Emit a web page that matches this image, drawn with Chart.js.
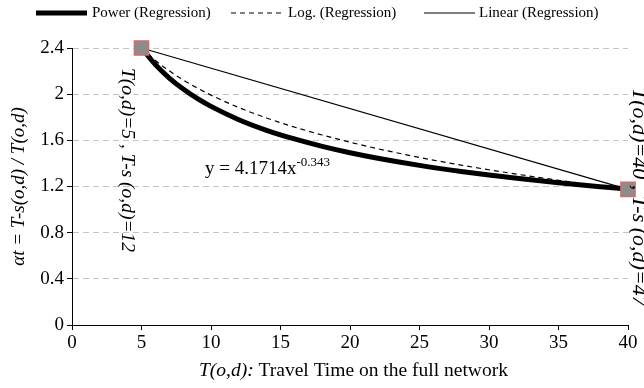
<!DOCTYPE html>
<html>
<head>
<meta charset="utf-8">
<script src="https://cdn.jsdelivr.net/npm/chart.js@4.4.0/dist/chart.umd.min.js"></script>
<style>
  body { margin: 0; background: #fff; }
  #wrap { width: 644px; height: 388px; }
</style>
</head>
<body>
<div id="wrap"><canvas id="chart"></canvas></div>
<script>
// values
var xValues = [5, 6, 7, 8, 9, 10, 12, 14, 16, 18, 20, 22, 25, 28, 30, 32, 35, 38, 40];
var powerValues = [2.402, 2.256, 2.140, 2.044, 1.963, 1.894, 1.779, 1.687, 1.612, 1.548, 1.493, 1.445, 1.383, 1.330, 1.299, 1.271, 1.232, 1.198, 1.177];
var logValues = [2.400, 2.292, 2.202, 2.123, 2.054, 1.992, 1.884, 1.794, 1.715, 1.646, 1.584, 1.527, 1.452, 1.385, 1.345, 1.307, 1.254, 1.206, 1.175];
var linearX = [5, 40];
var linearValues = [2.40, 1.175];
var pointX = [5, 40];
var pointValues = [2.40, 1.175];
var seriesNames = ['Power (Regression)', 'Log. (Regression)', 'Linear (Regression)'];
var xTicks = [0, 5, 10, 15, 20, 25, 30, 35, 40];
var yTicks = [0, 0.4, 0.8, 1.2, 1.6, 2, 2.4];

var serif = '"Liberation Serif", "Times New Roman", serif';

function pairs(xs, ys) {
  return xs.map(function(x, i) { return { x: x, y: ys[i] }; });
}

var textPlugin = {
  id: 'texts',
  afterDraw: function(chart) {
    var ctx = chart.ctx;
    var xs = chart.scales.x;
    var ys = chart.scales.y;
    ctx.save();
    ctx.fillStyle = '#000';
    ctx.strokeStyle = '#000';

    // legend
    var ly = 13;
    ctx.font = '15px ' + serif;
    ctx.textBaseline = 'middle';
    ctx.textAlign = 'left';
    ctx.lineWidth = 5;
    ctx.beginPath(); ctx.moveTo(36, ly); ctx.lineTo(87, ly); ctx.stroke();
    ctx.fillText(seriesNames[0], 92, ly);
    ctx.lineWidth = 1.2;
    ctx.setLineDash([5, 4]);
    ctx.beginPath(); ctx.moveTo(231, ly); ctx.lineTo(283, ly); ctx.stroke();
    ctx.setLineDash([]);
    ctx.fillText(seriesNames[1], 288, ly);
    ctx.beginPath(); ctx.moveTo(424, ly); ctx.lineTo(475, ly); ctx.stroke();
    ctx.fillText(seriesNames[2], 479, ly);

    // x title
    ctx.textBaseline = 'alphabetic';
    var t1 = 'T(o,d):';
    var t2 = ' Travel Time on the full network';
    ctx.font = 'italic 19.5px ' + serif;
    var w1 = ctx.measureText(t1).width;
    ctx.fillText(t1, 199, 376);
    ctx.font = '19.5px ' + serif;
    ctx.fillText(t2, 199 + w1, 376);

    // y title
    ctx.save();
    ctx.translate(24, (ys.top + ys.bottom) / 2);
    ctx.rotate(-Math.PI / 2);
    ctx.textAlign = 'center';
    ctx.font = 'italic 19px ' + serif;
    ctx.fillText('\u03b1t = T-s(o,d) / T(o,d)', 0, 0);
    ctx.restore();

    // point annotations
    ctx.save();
    ctx.translate(xs.getPixelForValue(5) - 20, 68);
    ctx.rotate(Math.PI / 2);
    ctx.textAlign = 'left';
    ctx.font = 'italic 19.5px ' + serif;
    ctx.fillText('T(o,d)=5 , T-s (o,d)=12', 0, 0);
    ctx.restore();

    ctx.save();
    ctx.translate(xs.getPixelForValue(40) + 5, 88);
    ctx.rotate(Math.PI / 2);
    ctx.textAlign = 'left';
    ctx.font = 'italic 22px ' + serif;
    ctx.fillText('T(o,d)=40 , T-s (o,d)=47', 0, 0);
    ctx.restore();

    // regression equation
    ctx.textAlign = 'left';
    ctx.font = '19px ' + serif;
    var eq = 'y = 4.1714x';
    ctx.fillText(eq, 205, 174);
    var ew = ctx.measureText(eq).width;
    ctx.font = '13px ' + serif;
    ctx.fillText('-0.343', 205 + ew, 166);

    ctx.restore();
  }
};

new Chart(document.getElementById('chart'), {
  type: 'line',
  data: {
    datasets: [
      {
        label: 'points',
        data: pairs(pointX, pointValues),
        showLine: false,
        clip: false,
        pointStyle: 'rect',
        pointRadius: 10,
        pointBackgroundColor: '#8c8c8c',
        pointBorderColor: '#d46a6a',
        pointBorderWidth: 1.5,
        order: 0
      },
      {
        label: seriesNames[0],
        data: pairs(xValues, powerValues),
        borderColor: '#000',
        borderWidth: 5,
        pointRadius: 0,
        clip: false,
        cubicInterpolationMode: 'monotone',
        order: 1
      },
      {
        label: seriesNames[1],
        data: pairs(xValues, logValues),
        borderColor: '#000',
        borderWidth: 1.2,
        borderDash: [5, 4],
        pointRadius: 0,
        clip: false,
        cubicInterpolationMode: 'monotone',
        order: 2
      },
      {
        label: seriesNames[2],
        data: pairs(linearX, linearValues),
        borderColor: '#000',
        borderWidth: 1.2,
        pointRadius: 0,
        clip: false,
        order: 3
      }
    ]
  },
  options: {
    responsive: true,
    maintainAspectRatio: false,
    animation: false,
    layout: { padding: { top: 48, right: 16, left: 0, bottom: 0 } },
    plugins: {
      legend: { display: false },
      tooltip: { enabled: false }
    },
    scales: {
      x: {
        type: 'linear',
        min: 0,
        max: 40,
        afterBuildTicks: function(scale) {
          scale.ticks = xTicks.map(function(v) { return { value: v }; });
        },
        afterFit: function(scale) { scale.height = 63; },
        border: { color: '#000', width: 1 },
        grid: { drawOnChartArea: false, tickLength: 5, color: '#000' },
        ticks: { color: '#000', font: { family: serif, size: 19 }, padding: 2, maxRotation: 0 }
      },
      y: {
        min: 0,
        max: 2.4,
        afterBuildTicks: function(scale) {
          scale.ticks = yTicks.map(function(v) { return { value: v }; });
        },
        afterFit: function(scale) { scale.width = 72; },
        border: { color: '#000', width: 1, dash: [6, 4] },
        grid: {
          color: function(c) { return c.tick && c.tick.value === 0 ? 'rgba(0,0,0,0)' : '#c4c4c4'; },
          tickColor: '#000',
          tickBorderDash: [],
          tickLength: 5
        },
        ticks: {
          color: '#000',
          font: { family: serif, size: 19 },
          padding: 3,
          callback: function(v) { return String(v); }
        }
      }
    }
  },
  plugins: [textPlugin]
});
</script>
</body>
</html>
